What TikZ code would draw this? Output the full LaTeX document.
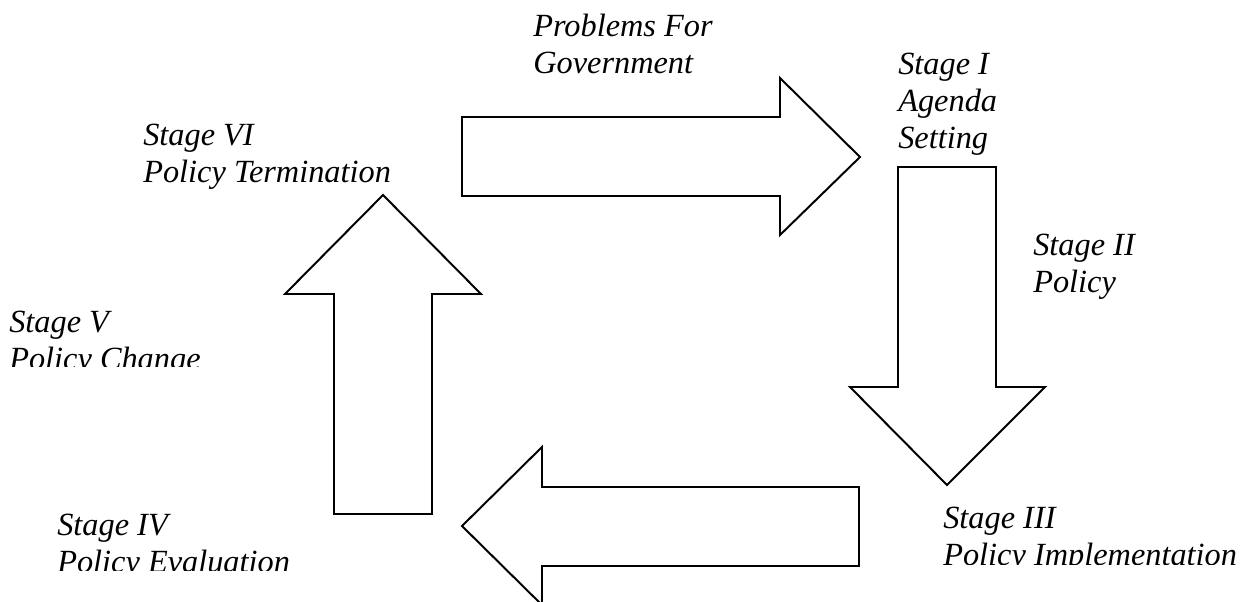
\documentclass[tikz,border=0pt]{standalone}
\usepackage{fontspec}
\setmainfont{Liberation Serif}
\usetikzlibrary{positioning}
\tikzset{
  stagelabel/.style={font=\fontsize{23}{26.3}\selectfont\itshape, align=left, inner sep=0pt, anchor=base west},
  blockarrow/.style={draw=black, line width=1.4pt, fill=white, line join=miter}
}
\begin{document}
\begin{tikzpicture}[x=0.025cm, y=-0.025cm]
    \useasboundingbox (0,0) rectangle (1245,601);
    \clip (0,0) rectangle (1245,601);

    % Flechas del ciclo
    \draw[blockarrow] (462,117) -- (780,117) -- (780,78) -- (860,157)
        -- (780,235) -- (780,196) -- (462,196) -- cycle;
    \draw[blockarrow] (898,167) -- (996,167) -- (996,387) -- (1045,387)
        -- (947,485) -- (850,387) -- (898,387) -- cycle;
    \draw[blockarrow] (859,487) -- (542,487) -- (542,447) -- (462,526)
        -- (542,605) -- (542,566) -- (859,566) -- cycle;
    \draw[blockarrow] (334,514) -- (334,294) -- (285,294) -- (383,195)
        -- (481,294) -- (432,294) -- (432,514) -- cycle;

    % Etiquetas de las etapas (ancladas en la ultima linea)
    \node[stagelabel] (problems) at (533,73) {Problems For\\Government};
    \node[stagelabel] (stageI) at (898,148) {Stage I\\Agenda\\Setting};
    \node[stagelabel] (stageII) at (1033,292) {Stage II\\Policy};
    \node[stagelabel] (stageVI) at (143,182) {Stage VI\\Policy Termination};

    % Etiquetas recortadas abajo
    \begin{scope}
        \clip (0,0) rectangle (1245,564);
        \node[stagelabel] (stageIII) at (943,565) {Stage III\\Policy Implementation};
    \end{scope}
    \begin{scope}
        \clip (0,0) rectangle (1245,570);
        \node[stagelabel] (stageIV) at (57,572) {Stage IV\\Policy Evaluation};
    \end{scope}
    \begin{scope}
        \clip (0,0) rectangle (1245,366);
        \node[stagelabel] (stageV) at (9,369) {Stage V\\Policy Change};
    \end{scope}
\end{tikzpicture}
\end{document}
